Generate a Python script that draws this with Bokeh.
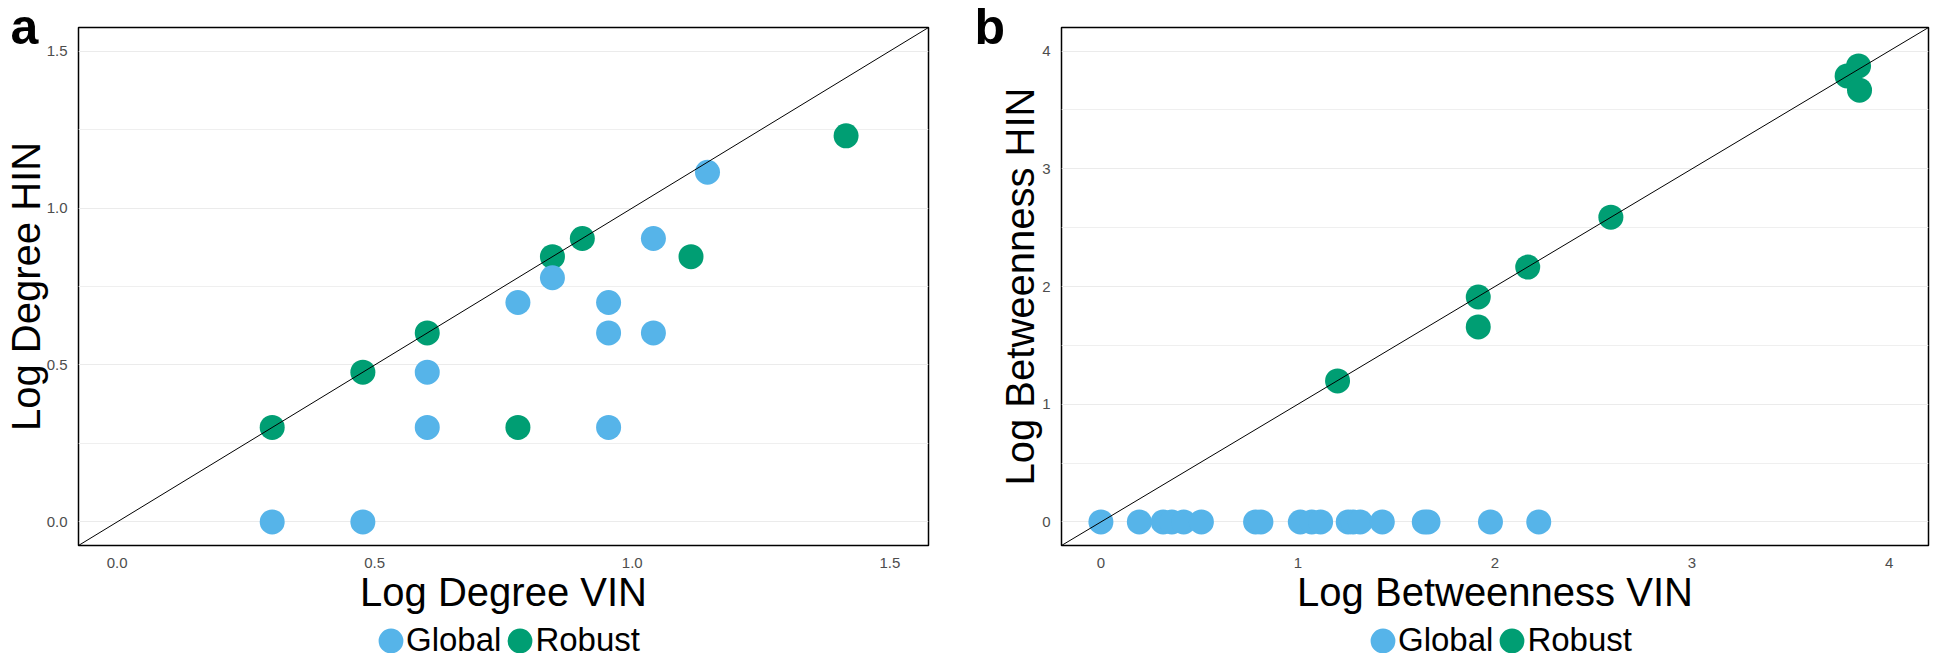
from bokeh.plotting import figure
from bokeh.layouts import row, column
from bokeh.models import (Range1d, FixedTicker, PrintfTickFormatter, Slope, Legend,
                          LegendItem, ColumnDataSource, Label)
from bokeh.embed import file_html
from bokeh.resources import INLINE

# ---------------- data ----------------
# Panel a: log degree
deg_vin_global = [0.301, 0.477, 0.602, 0.602, 0.778, 0.845, 0.954, 0.954, 0.954, 1.041, 1.041, 1.146]
deg_hin_global = [0.0, 0.0, 0.301, 0.477, 0.699, 0.778, 0.699, 0.602, 0.301, 0.903, 0.602, 1.114]
deg_vin_robust = [0.301, 0.477, 0.602, 0.778, 0.845, 0.903, 1.114, 1.415]
deg_hin_robust = [0.301, 0.477, 0.602, 0.301, 0.845, 0.903, 0.845, 1.230]

# Panel b: log betweenness
btw_vin_global = [0.0, 0.195, 0.316, 0.36, 0.42, 0.51, 0.785, 0.812, 1.012, 1.07, 1.115,
                  1.255, 1.28, 1.316, 1.428, 1.641, 1.66, 1.977, 2.222]
btw_hin_global = [0.0, 0.0, 0.0, 0.0, 0.0, 0.0, 0.0, 0.0, 0.0, 0.0, 0.0,
                  0.0, 0.0, 0.0, 0.0, 0.0, 0.0, 0.0, 0.0]
btw_vin_robust = [1.201, 1.915, 1.915, 2.166, 2.588, 3.787, 3.845, 3.85]
btw_hin_robust = [1.198, 1.911, 1.657, 2.165, 2.589, 3.789, 3.874, 3.668]

# ticks
deg_ticks = [0.0, 0.5, 1.0, 1.5]
deg_minor = [0.25, 0.75, 1.25]
btw_ticks = [0, 1, 2, 3, 4]
btw_minor = [0.5, 1.5, 2.5, 3.5]

series_names = ["Global", "Robust"]
COL_GLOBAL = "#56B4E9"
COL_ROBUST = "#009E73"
FONT = "Liberation Sans"


def add_points(p, src_g, src_r):
    rg = p.ellipse("x", "y", source=src_r, width=25, height=25, width_units="screen",
                   height_units="screen", fill_color=COL_ROBUST, line_color=None)
    rb = p.ellipse("x", "y", source=src_g, width=25, height=25, width_units="screen",
                   height_units="screen", fill_color=COL_GLOBAL, line_color=None)
    return rb, rg


def make_panel(letter, xs_g, ys_g, xs_r, ys_r, lo, hi, ticks, minor, fmt,
               xtitle, ytitle, width, mbl, mbr, letter_off, y_als, legend_x):
    src_g = ColumnDataSource(dict(x=xs_g, y=ys_g))
    src_r = ColumnDataSource(dict(x=xs_r, y=ys_r))

    p = figure(width=width, height=575, output_backend="svg", toolbar_location=None,
               x_range=Range1d(lo, hi), y_range=Range1d(lo, hi),
               min_border_left=mbl, min_border_right=mbr,
               min_border_top=27, min_border_bottom=30)
    p.background_fill_color = "white"
    p.border_fill_color = "white"
    p.outline_line_color = "black"
    p.outline_line_width = 1.5

    # panel letter as the figure title, pulled into the top-left corner
    p.title.text = letter
    p.title.align = "left"
    p.title.vertical_align = "bottom"
    p.title.offset = letter_off
    p.title.standoff = -55
    p.title.text_font = FONT
    p.title.text_font_size = "50px"
    p.title.text_font_style = "bold"
    p.title.text_color = "black"

    p.xgrid.visible = False
    p.ygrid.grid_line_color = "#EBEBEB"
    p.ygrid.grid_line_width = 1
    p.ygrid.minor_grid_line_color = "#EFEFEF"
    p.ygrid.minor_grid_line_width = 1

    for ax in (p.xaxis[0], p.yaxis[0]):
        ax.ticker = FixedTicker(ticks=ticks, minor_ticks=minor)
        ax.formatter = PrintfTickFormatter(format=fmt)
        ax.axis_line_color = None
        ax.major_tick_line_color = None
        ax.minor_tick_line_color = None
        ax.major_label_text_font = FONT
        ax.major_label_text_font_size = "15px"
        ax.major_label_text_color = "#4D4D4D"
        ax.axis_label_text_font = FONT
        ax.axis_label_text_font_size = "40px"
        ax.axis_label_text_font_style = "normal"
        ax.axis_label_text_color = "black"
    p.yaxis.major_label_standoff = 5
    p.xaxis.major_label_standoff = 6
    p.yaxis.axis_label = ytitle
    p.yaxis.axis_label_standoff = y_als

    p.add_layout(Slope(gradient=1, y_intercept=0, line_color="black", line_width=1))
    add_points(p, src_g, src_r)

    # footer strip: x-axis title and legend (same data sources, view kept off the data)
    ft = figure(width=width, height=78, output_backend="svg", toolbar_location=None,
                x_range=Range1d(lo, hi), y_range=Range1d(hi + 10, hi + 11),
                x_axis_type=None, y_axis_type=None,
                min_border_left=0, min_border_right=0, min_border_top=0,
                min_border_bottom=0)
    ft.outline_line_color = None
    ft.grid.visible = False
    ft.background_fill_color = "white"
    ft.border_fill_color = "white"
    ft.add_layout(Label(x=(lo + hi) / 2, y=62, x_units="data", y_units="screen",
                        text=xtitle, text_font=FONT, text_font_size="40px",
                        text_color="black", text_align="center",
                        text_baseline="alphabetic"))
    lb_, lr_ = add_points(ft, src_g, src_r)
    legend = Legend(items=[LegendItem(label=series_names[0], renderers=[lb_]),
                           LegendItem(label=series_names[1], renderers=[lr_])],
                    orientation="horizontal", location=(legend_x, -12),
                    glyph_width=31, glyph_height=31, label_standoff=0, spacing=3,
                    label_height=50, padding=0, margin=0, border_line_color=None,
                    background_fill_alpha=0,
                    label_text_font=FONT, label_text_font_size="33px",
                    label_text_color="black")
    ft.add_layout(legend)
    return column(p, ft, spacing=0)


pa = make_panel("a", deg_vin_global, deg_hin_global, deg_vin_robust, deg_hin_robust,
                -0.075, 1.575, deg_ticks, deg_minor, "%.1f",
                "Log Degree VIN", "Log Degree HIN",
                width=972, mbl=68, mbr=44, letter_off=-68, y_als=-4, legend_x=297)
pb = make_panel("b", btw_vin_global, btw_hin_global, btw_vin_robust, btw_hin_robust,
                -0.2, 4.2, btw_ticks, btw_minor, "%d",
                "Log Betweenness VIN", "Log Betweenness HIN",
                width=958, mbl=89, mbr=2, letter_off=-87, y_als=-3, legend_x=306)

layout = row(pa, pb, spacing=0)
open("out.html", "w").write(file_html(layout, INLINE))
